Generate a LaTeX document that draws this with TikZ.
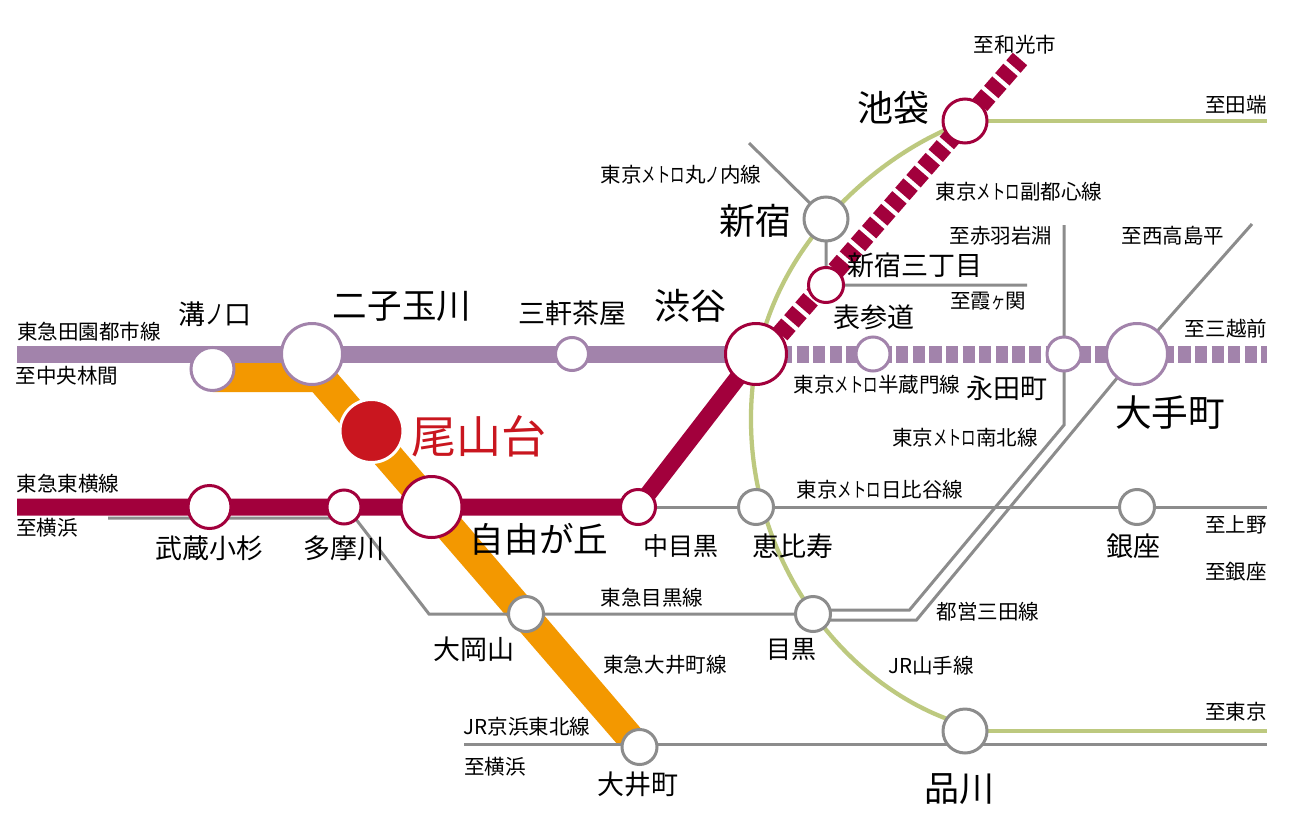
\documentclass[tikz,border=0pt]{standalone}
\usepackage{fontspec}
\usepackage{graphicx}
\setmainfont{Noto Sans CJK JP}
\usetikzlibrary{backgrounds}
\definecolor{cpurple}{HTML}{A283AB}
\definecolor{ccrimson}{HTML}{A2003C}
\definecolor{corange}{HTML}{F39800}
\definecolor{cred}{HTML}{C9161F}
\definecolor{cgreen}{HTML}{BDC97F}
\definecolor{cgray}{HTML}{8C8C8C}
\newcommand{\nr}[1]{\scalebox{.7}[1]{#1}}
\tikzset{
  st/.style n args={2}{circle,inner sep=0pt,fill=white,draw=#1,line width=2.25pt,minimum size=#2*0.75pt},
  lbl/.style={inner sep=0pt,text=black},
  sa/.style={lbl,font=\fontsize{15.4}{16}\selectfont},
  sb/.style={lbl,font=\fontsize{18.75}{20}\selectfont},
  sc/.style={lbl,font=\fontsize{20.25}{22}\selectfont},
  sd/.style={lbl,font=\fontsize{25.9}{28}\selectfont},
  se/.style={lbl,font=\fontsize{27}{29}\selectfont},
  grayline/.style={draw=cgray,line width=2.25pt},
  greenline/.style={draw=cgreen,line width=3.2pt},
  purpleline/.style={draw=cpurple,line width=12.75pt},
  crimsonline/.style={draw=ccrimson,line width=12.75pt},
  purpledash/.style={draw=cpurple,line width=12.75pt,dash pattern=on 9.2pt off 3.25pt},
  crimsondash/.style={draw=ccrimson,line width=14.25pt,dash pattern=on 9.3pt off 3.375pt,dash phase=1.8pt},
}
\begin{document}
\begin{tikzpicture}[x=0.75pt,y=-0.75pt]
\useasboundingbox (0,0) rectangle (1300,839);

% stations
\node[st={cpurple}{43}] (mizo) at (212.5,369) {};
\node[st={cpurple}{61}] (futako) at (312,354) {};
\node[st={cpurple}{33}] (sangen) at (572,354) {};
\node[st={ccrimson}{61}] (shibuya) at (756,354) {};
\node[st={cpurple}{34}] (omote) at (873,354) {};
\node[st={cpurple}{34}] (nagata) at (1064,354) {};
\node[st={cpurple}{61}] (otemachi) at (1137,354) {};
\node[st={ccrimson}{44}] (ikebukuro) at (965,121) {};
\node[st={cgray}{44}] (shinjuku) at (826,219) {};
\node[st={ccrimson}{35}] (sanchome) at (826,285) {};
\node[circle,inner sep=0pt,fill=cred,draw=white,line width=2.25pt,minimum size=63*0.75pt] (oyamadai) at (371.5,431) {};
\node[st={ccrimson}{43}] (kosugi) at (209.5,507) {};
\node[st={ccrimson}{34}] (tamagawa) at (344,507) {};
\node[st={ccrimson}{61}] (jiyu) at (431.5,507) {};
\node[st={ccrimson}{35}] (nakame) at (638,507) {};
\node[st={cgray}{35}] (ebisu) at (756,507) {};
\node[st={cgray}{35}] (ginza) at (1137,507) {};
\node[st={cgray}{35}] (ooka) at (526,614) {};
\node[st={cgray}{35}] (meguro) at (813,614) {};
\node[st={cgray}{35}] (oimachi) at (639.5,747) {};
\node[st={cgray}{44}] (shinagawa) at (965,731) {};

% free ends
\coordinate (purpleW) at (17,354);
\coordinate (purpleE) at (1267,354);
\coordinate (crimsonW) at (17,507);
\coordinate (wako) at (1020,59);
\coordinate (tabata) at (1267,121);
\coordinate (tokyo) at (1267,731);
\coordinate (marunouchi) at (749,143);
\coordinate (kasumi) at (1027,285);
\coordinate (akabane) at (1064,225);
\coordinate (nishitaka) at (1252,224);
\coordinate (hibiyaE) at (1267,507);
\coordinate (tamaW) at (108,518);
\coordinate (keihinW) at (464,744);
\coordinate (keihinE) at (1267,744);

\begin{scope}[on background layer]
  \fill[white] (0,0) rectangle (1300,839);
  % Oimachi line
  \fill[corange] (213,352) -- (319,352) -- (655,745) -- (618,745) -- (312.5,392) -- (213,392) -- cycle;
  % Yamanote
  \draw[greenline] (ikebukuro.center) -- (941,132) .. controls (870,165) and (750,260) .. (751,420)
     .. controls (751,560) and (840,680) .. (950,720) -- (shinagawa.center);
  \draw[greenline] (ikebukuro.center) -- (tabata);
  \draw[greenline] (shinagawa.center) -- (tokyo);
  % gray lines
  \draw[grayline] (marunouchi) -- (shinjuku.center) -- (sanchome.center) -- (kasumi);
  \draw[grayline] (akabane) -- (nagata.center) -- (1064,425) -- (909.5,610) -- (813,610);
  \draw[grayline] (nishitaka) -- (otemachi.center) -- (916.5,620) -- (813,620);
  \draw[grayline] (nakame.center) -- (hibiyaE);
  \draw[grayline] (tamaW) -- (355,518) -- (429,614) -- (meguro.center);
  \draw[grayline] (keihinW) -- (keihinE);
  % purple
  \draw[purpleline] (purpleW) -- (shibuya.center);
  \draw[purpledash] (780,354) -- (purpleE);
  % crimson
  \draw[crimsonline] (crimsonW) -- (nakame.center) -- (shibuya.center);
  \draw[crimsondash] (wako) -- (776,339);
\end{scope}

% labels
\node[sa] (l01) at (1015,45) {至和光市};
\node[se] (l02) at (893,108) {池袋};
\node[sa] (l03) at (1236,105) {至田端};
\node[sa] (l04) at (681,175) {東京\nr{メトロ}丸\nr{ノ}内線};
\node[se] (l05) at (755,221) {新宿};
\node[sa] (l06) at (1019,192) {東京\nr{メトロ}副都心線};
\node[sa] (l07) at (1001,236) {至赤羽岩淵};
\node[sa] (l08) at (1173,236) {至西高島平};
\node[sc] (l09) at (915,265) {新宿三丁目};
\node[sa] (l10) at (988,301) {至霞\nr{ヶ}関};
\node[sc] (l11) at (874,317) {表参道};
\node[sa] (l12) at (1226,329) {至三越前};
\node[se] (l13) at (690,306) {渋谷};
\node[sc] (l14) at (572,313) {三軒茶屋};
\node[sd] (l15) at (402,306) {二子玉川};
\node[sc] (l16) at (215,314) {溝\nr{ノ}口};
\node[sa] (l17) at (89,332) {東急田園都市線};
\node[sa] (l18) at (67,376) {至中央林間};
\node[sa] (l19) at (877,385) {東京\nr{メトロ}半蔵門線};
\node[sc] (l20) at (1007,388) {永田町};
\node[lbl,font=\fontsize{27.5}{29}\selectfont] (l21) at (1170,413) {大手町};
\node[sa] (l22) at (965,438) {東京\nr{メトロ}南北線};
\node[lbl,text=cred,font=\fontsize{33.75}{36}\selectfont] (l23) at (479,436) {尾山台};
\node[sa] (l24) at (68,484) {東急東横線};
\node[sa] (l25) at (47,528) {至横浜};
\node[sc] (l26) at (209,548) {武蔵小杉};
\node[sc] (l27) at (344,548) {多摩川};
\node[sd] (l28) at (539,539) {自由が丘};
\node[sb] (l29) at (681,546) {中目黒};
\node[sc] (l30) at (793,546) {恵比寿};
\node[sa] (l31) at (880,490) {東京\nr{メトロ}日比谷線};
\node[sc] (l32) at (1133,546) {銀座};
\node[sa] (l33) at (1236,525) {至上野};
\node[sa] (l34) at (1236,572) {至銀座};
\node[sa] (l35) at (652,598) {東急目黒線};
\node[sa] (l36) at (988,612) {都営三田線};
\node[sc] (l37) at (474,649) {大岡山};
\node[sb] (l38) at (791,649) {目黒};
\node[sa] (l39) at (665,665) {東急大井町線};
\node[sa] (l40) at (931,666) {JR山手線};
\node[sa] (l41) at (527,727) {JR京浜東北線};
\node[sa] (l42) at (495,767) {至横浜};
\node[sc] (l43) at (638,784) {大井町};
\node[sa] (l44) at (1236,712) {至東京};
\node[lbl,font=\fontsize{26.25}{28}\selectfont] (l45) at (959,789) {品川};
\end{tikzpicture}
\end{document}
